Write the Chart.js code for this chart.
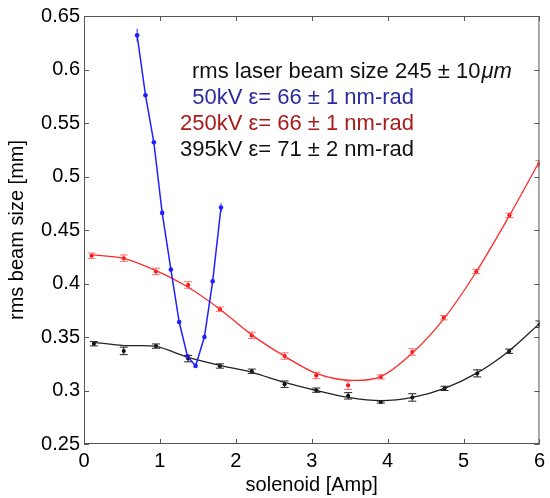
<!DOCTYPE html>
<html>
<head>
<meta charset="utf-8">
<script src="https://cdn.jsdelivr.net/npm/chart.js@4.4.0/dist/chart.umd.min.js"></script>
<style>
  html, body { margin: 0; padding: 0; background: #fff; }
  canvas { display: block; }
</style>
</head>
<body>
<canvas id="myChart" width="550" height="498"></canvas>
<script>
// tick values and labels
let xTicks = [0, 1, 2, 3, 4, 5, 6];
let yTicks = [0.25, 0.3, 0.35, 0.4, 0.45, 0.5, 0.55, 0.6, 0.65];
let yTickLabels = ['0.25', '0.3', '0.35', '0.4', '0.45', '0.5', '0.55', '0.6', '0.65'];

// 50kV (blue)
let blueX = [0.70, 0.81, 0.92, 1.03, 1.145, 1.254, 1.363, 1.47, 1.586, 1.695, 1.805];
let blueY = [0.632, 0.576, 0.532, 0.466, 0.413, 0.364, 0.332, 0.323, 0.350, 0.402, 0.471];
let blueErr = [0.006, 0.002, 0.002, 0.002, 0.002, 0.002, 0.002, 0.002, 0.002, 0.002, 0.004];

// 250kV (red)
let redX = [0.10, 0.524, 0.948, 1.372, 1.79, 2.21, 2.643, 3.06, 3.48, 3.91, 4.325, 4.74, 5.168, 5.605, 6.0];
let redY = [0.426, 0.4237, 0.4113, 0.3986, 0.376, 0.3515, 0.3322, 0.314, 0.305, 0.3127, 0.336, 0.368, 0.4113, 0.4637, 0.512];
let redErr = [0.0025, 0.003, 0.003, 0.003, 0.002, 0.003, 0.003, 0.003, 0.004, 0.002, 0.003, 0.002, 0.002, 0.002, 0.003];
let redFitY = [0.427, 0.4235, 0.412, 0.3965, 0.376, 0.352, 0.332, 0.316, 0.3096, 0.313, 0.335, 0.367, 0.411, 0.4635, 0.514];

// 395kV (black)
let blackX = [0.13, 0.524, 0.948, 1.372, 1.79, 2.21, 2.643, 3.06, 3.48, 3.91, 4.325, 4.75, 5.18, 5.6, 6.0];
let blackY = [0.3437, 0.337, 0.3415, 0.3298, 0.3229, 0.318, 0.3059, 0.3003, 0.295, 0.2892, 0.2935, 0.302, 0.316, 0.3367, 0.362];
let blackErr = [0.002, 0.0035, 0.002, 0.003, 0.002, 0.002, 0.003, 0.002, 0.003, 0.001, 0.0035, 0.002, 0.0033, 0.002, 0.003];
let blackFitY = [0.345, 0.342, 0.3412, 0.331, 0.3235, 0.317, 0.3075, 0.300, 0.2935, 0.2905, 0.2935, 0.302, 0.3165, 0.337, 0.3625];

let textLines = [
    {text: 'rms laser beam size 245 \u00b1 10', tail: '\u03bcm', color: '#111', align: 'left'},
    {text: '50kV \u03b5= 66 \u00b1 1 nm-rad', color: '#2b2ba0', align: 'right'},
    {text: '250kV \u03b5= 66 \u00b1 1 nm-rad', color: '#a81c1c', align: 'right'},
    {text: '395kV \u03b5= 71 \u00b1 2 nm-rad', color: '#111', align: 'right'}
];

const FONT = '"Liberation Sans", Arial, Helvetica, sans-serif';

function pts(xs, ys) {
    return xs.map((x, i) => ({x: x, y: ys[i]}));
}

// error bars, drawn through the scales
const errorBars = {
    id: 'errorBars',
    afterDatasetsDraw(chart) {
        let ctx = chart.ctx;
        let xs = chart.scales.x, ys = chart.scales.y;
        let sets = [
            {x: blackX, y: blackY, e: blackErr, c: '#222', cap: true},
            {x: redX, y: redY, e: redErr, c: 'rgba(255,60,60,0.75)', cap: true},
            {x: blueX, y: blueY, e: blueErr, c: '#2020ff', cap: false}
        ];
        ctx.save();
        ctx.beginPath();
        ctx.rect(chart.chartArea.left, chart.chartArea.top, chart.chartArea.width, chart.chartArea.height);
        ctx.clip();
        sets.forEach(s => {
            ctx.strokeStyle = s.c;
            ctx.lineWidth = 1;
            for (let i = 0; i < s.x.length; i++) {
                let px = xs.getPixelForValue(s.x[i]);
                let top = ys.getPixelForValue(s.y[i] + s.e[i]);
                let bot = ys.getPixelForValue(s.y[i] - s.e[i]);
                ctx.beginPath();
                ctx.moveTo(px, top); ctx.lineTo(px, bot);
                if (s.cap) {
                    ctx.moveTo(px - 4, top); ctx.lineTo(px + 4, top);
                    ctx.moveTo(px - 4, bot); ctx.lineTo(px + 4, bot);
                }
                ctx.stroke();
            }
        });
        ctx.restore();
    }
};

// matlab style box with inward ticks + text block
const frame = {
    id: 'frame',
    afterDraw(chart) {
        let ctx = chart.ctx;
        let a = chart.chartArea;
        let xs = chart.scales.x, ys = chart.scales.y;
        ctx.save();
        ctx.strokeStyle = '#555';
        ctx.lineWidth = 1;
        ctx.strokeRect(a.left + 0.5, a.top + 0.5, a.width - 1, a.height - 1);
        ctx.beginPath();
        xTicks.forEach(v => {
            let px = Math.round(xs.getPixelForValue(v)) + 0.5;
            ctx.moveTo(px, a.bottom); ctx.lineTo(px, a.bottom - 5);
            ctx.moveTo(px, a.top); ctx.lineTo(px, a.top + 5);
        });
        yTicks.forEach(v => {
            let py = Math.round(ys.getPixelForValue(v)) + 0.5;
            ctx.moveTo(a.left, py); ctx.lineTo(a.left + 5, py);
            ctx.moveTo(a.right, py); ctx.lineTo(a.right - 5, py);
        });
        ctx.stroke();

        ctx.font = '22px ' + FONT;
        ctx.textBaseline = 'middle';
        textLines.forEach((t, i) => {
            ctx.fillStyle = t.color;
            ctx.textAlign = t.align;
            let y = 72 + i * 26;
            if (t.align === 'left') {
                ctx.fillText(t.text, 192, y);
                let w = ctx.measureText(t.text).width;
                ctx.font = 'italic 22px ' + FONT;
                ctx.fillText(t.tail, 192 + w + 1, y);
                ctx.font = '22px ' + FONT;
            } else {
                ctx.fillText(t.text, 414, y);
            }
        });
        ctx.restore();
    }
};

var ctx = document.getElementById('myChart').getContext('2d');
var chart = new Chart(ctx, {
    type: 'scatter',
    data: {
        datasets: [{
            label: '50kV',
            data: pts(blueX, blueY),
            showLine: true,
            borderColor: '#2020ff',
            backgroundColor: '#2020ff',
            borderWidth: 1.5,
            pointRadius: 2.3,
            pointBorderWidth: 0
        }, {
            label: '250kV fit',
            data: pts(redX, redFitY),
            showLine: true,
            borderColor: '#ff2a2a',
            borderWidth: 1.3,
            pointRadius: 0,
            tension: 0.3
        }, {
            label: '250kV',
            data: pts(redX, redY),
            showLine: false,
            backgroundColor: '#ee0000',
            pointRadius: 2,
            pointBorderWidth: 0
        }, {
            label: '395kV fit',
            data: pts(blackX, blackFitY),
            showLine: true,
            borderColor: '#222',
            borderWidth: 1.3,
            pointRadius: 0,
            tension: 0.3
        }, {
            label: '395kV',
            data: pts(blackX, blackY),
            showLine: false,
            backgroundColor: '#000',
            pointRadius: 2,
            pointBorderWidth: 0
        }]
    },
    options: {
        responsive: false,
        animation: false,
        devicePixelRatio: 1,
        layout: {padding: {left: 0, right: 8, top: 14, bottom: 0}},
        plugins: {legend: {display: false}, tooltip: {enabled: false}},
        scales: {
            x: {
                type: 'linear',
                min: 0, max: 6,
                afterBuildTicks: s => { s.ticks = xTicks.map(v => ({value: v})); },
                afterFit: s => { s.height = 54; },
                grid: {display: false, drawTicks: false},
                border: {display: false},
                ticks: {color: '#000', padding: 5, font: {family: FONT, size: 20}, maxRotation: 0},
                title: {display: true, text: 'solenoid [Amp]', color: '#000',
                        font: {family: FONT, size: 20}, padding: {top: 0, bottom: 1}}
            },
            y: {
                type: 'linear',
                min: 0.25, max: 0.65,
                afterBuildTicks: s => { s.ticks = yTicks.map(v => ({value: v})); },
                afterFit: s => { s.width = 84; },
                grid: {display: false, drawTicks: false},
                border: {display: false},
                ticks: {color: '#000', padding: 4, font: {family: FONT, size: 20},
                        callback: (v, i) => yTickLabels[i]},
                title: {display: true, text: 'rms beam size [mm]', color: '#000',
                        font: {family: FONT, size: 20}, padding: {top: 5, bottom: 0}}
            }
        }
    },
    plugins: [errorBars, frame]
});
</script>
</body>
</html>
